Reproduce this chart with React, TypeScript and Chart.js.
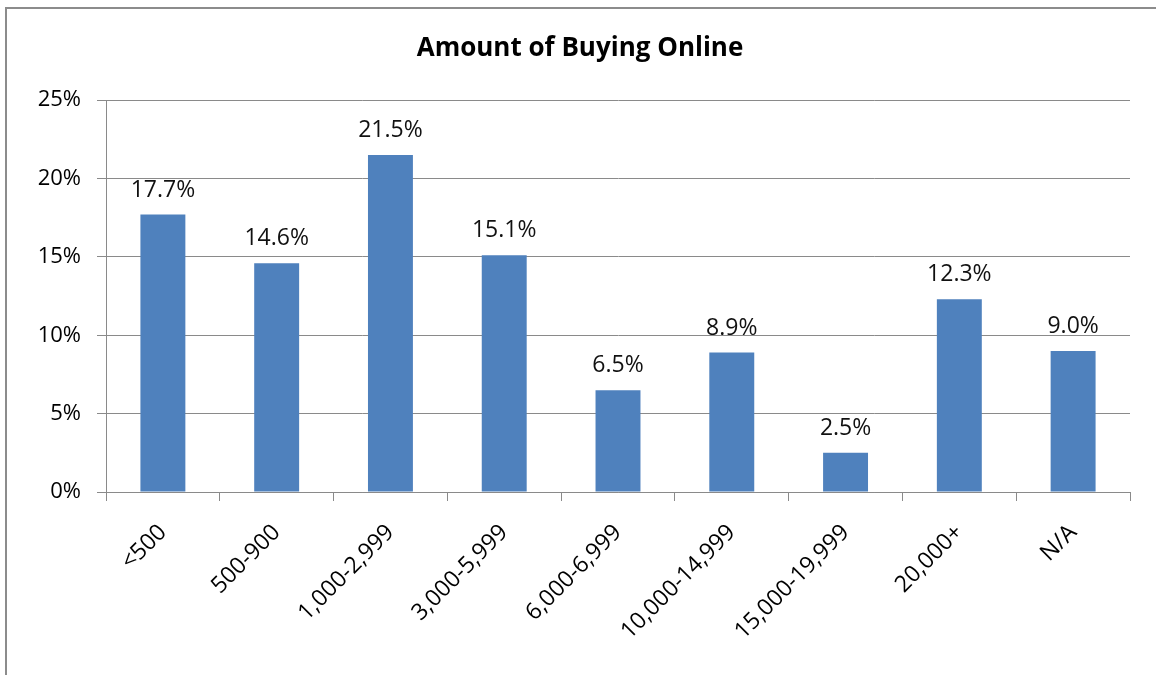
import React, { useEffect, useRef } from "react";
import { Chart, registerables } from "chart.js";

Chart.register(...registerables);

const categories = ["<500", "500-900", "1,000-2,999", "3,000-5,999", "6,000-6,999", "10,000-14,999", "15,000-19,999", "20,000+", "N/A"];
const values = [17.7, 14.6, 21.5, 15.1, 6.5, 8.9, 2.5, 12.3, 9.0];
const yTicks = [0, 5, 10, 15, 20, 25];
const titleText = "Amount of Buying Online";

const FONT = "'Open Sans', sans-serif";

const valueLabels = {
  id: "valueLabels",
  afterDatasetsDraw(chart: any) {
    const { ctx } = chart;
    const meta = chart.getDatasetMeta(0);
    ctx.save();
    ctx.font = `23px ${FONT}`;
    ctx.fillStyle = "#111";
    ctx.textAlign = "center";
    ctx.textBaseline = "alphabetic";
    meta.data.forEach((bar: any, i: number) => {
      ctx.fillText(values[i].toFixed(1) + "%", bar.x, bar.y - 18);
    });
    ctx.restore();
  },
};

export default function App() {
  const ref = useRef<HTMLCanvasElement>(null);
  useEffect(() => {
    if (!ref.current) return;
    const chart = new Chart(ref.current, {
      type: "bar",
      data: {
        labels: categories,
        datasets: [
          {
            data: values,
            backgroundColor: "#4F81BD",
            borderWidth: 0,
            barPercentage: 0.395,
            categoryPercentage: 1,
          },
        ],
      },
      options: {
        animation: false,
        responsive: false,
        layout: { padding: { left: 30, right: 26, top: 0, bottom: 0 } },
        plugins: {
          legend: { display: false },
          tooltip: { enabled: false },
          title: {
            display: true,
            text: titleText,
            color: "#000",
            font: { family: FONT, size: 26, weight: "bold", lineHeight: 1.2 },
            padding: { top: 33, bottom: 36 },
          },
        },
        scales: {
          x: {
            grid: {
              offset: true,
              drawOnChartArea: false,
              drawTicks: true,
              tickLength: 9,
              color: "#8a8a8a",
            },
            border: { color: "#8a8a8a", width: 1 },
            ticks: {
              color: "#000",
              font: { family: FONT, size: 23 },
              minRotation: 45,
              maxRotation: 45,
              padding: 18,
            },
            afterFit(scale: any) {
              scale.height = 183;
            },
          },
          y: {
            min: 0,
            max: 25,
            afterBuildTicks(scale: any) {
              scale.ticks = yTicks.map((v) => ({ value: v }));
            },
            grid: { color: "#8a8a8a", tickLength: 9 },
            border: { color: "#8a8a8a", width: 1 },
            ticks: {
              color: "#000",
              font: { family: FONT, size: 22 },
              padding: 16,
              callback: (v: any) => v + "%",
            },
            afterFit(scale: any) {
              scale.width = 76;
            },
          },
        },
      },
      plugins: [valueLabels],
    });
    return () => chart.destroy();
  }, []);
  return (
    <div style={{ position: "absolute", left: 0, top: 0, width: 1156, height: 675, background: "#fff", overflow: "hidden" }}>
      <div style={{ position: "absolute", left: 5, top: 7, width: 1300, height: 800, border: "2px solid #8c8c8c" }} />
      <canvas ref={ref} width={1156} height={675} style={{ position: "absolute", left: 0, top: 0 }} />
    </div>
  );
}
